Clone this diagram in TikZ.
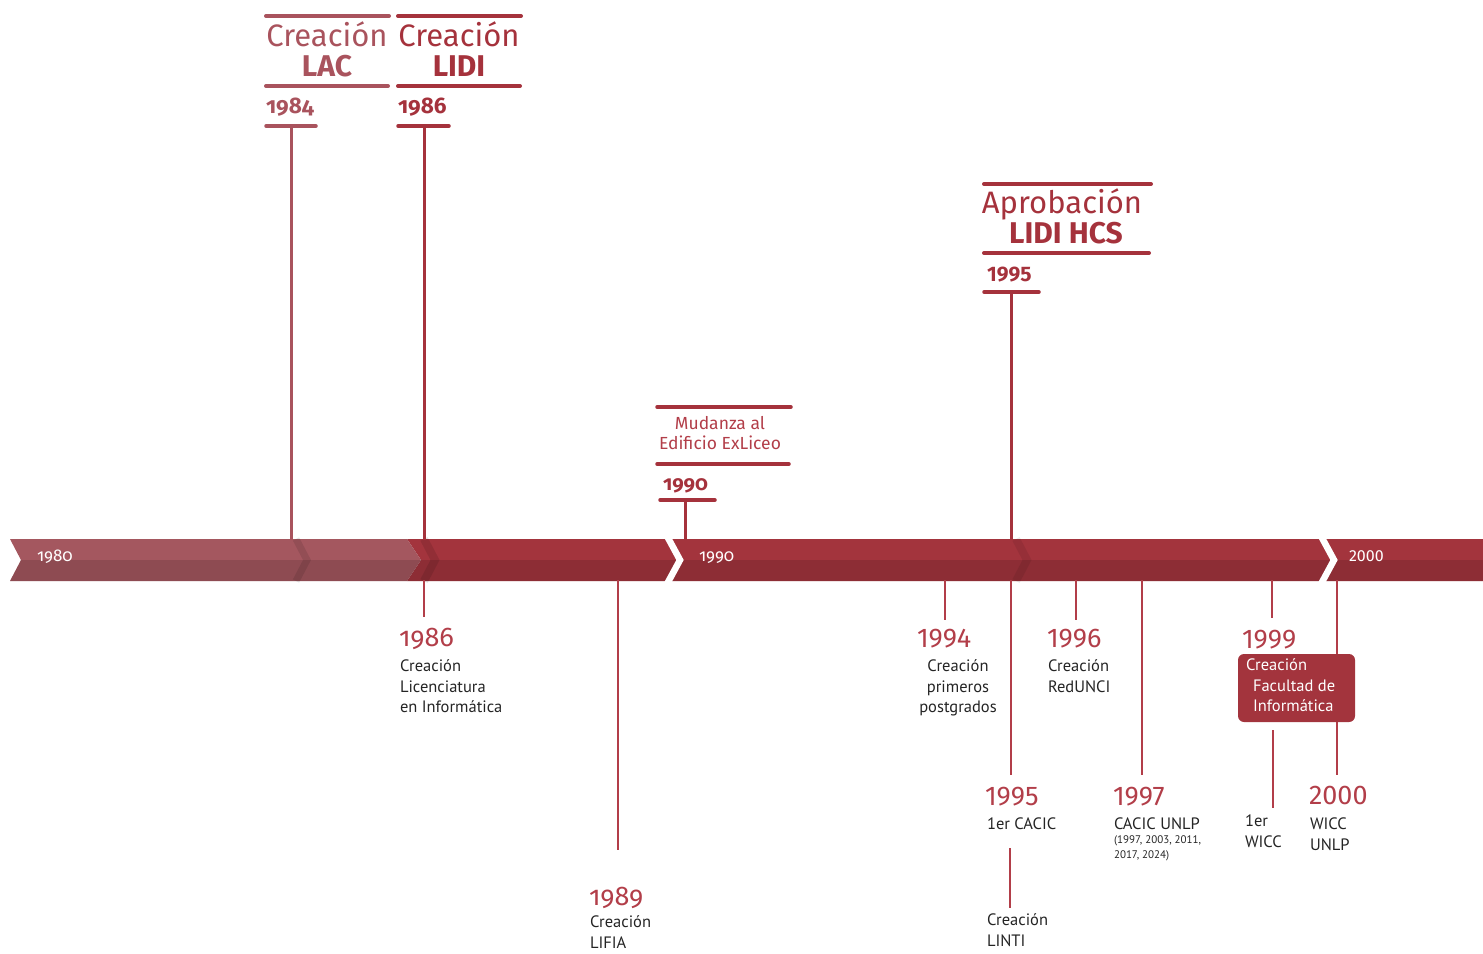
\documentclass[tikz,border=0pt]{standalone}
\usepackage{fontspec}
\setmainfont{PT Sans}
\newfontfamily\ttlfont{Fira Sans}[Numbers=OldStyle]
\newfontfamily\ttllin{Fira Sans}
\begin{document}
\begin{tikzpicture}[x=1pt,y=-1pt,
  every node/.style={inner sep=0pt,outer sep=0pt},
  barA/.style={draw=redA,line width=4pt,line cap=round},
  barB/.style={draw=redB,line width=4pt,line cap=round},
  stemA/.style={draw=redA,line width=3pt},
  stemB/.style={draw=redB,line width=3pt},
  stemC/.style={draw=redC,line width=2.4pt},
  ttlA/.style={font=\ttlfont\fontsize{31}{32}\selectfont,text=redA,anchor=base},
  ttlAb/.style={font=\ttlfont\bfseries\fontsize{30}{31}\selectfont,text=redA,anchor=base},
  ttlB/.style={font=\ttlfont\fontsize{31}{32}\selectfont,text=redB,anchor=base},
  ttlBb/.style={font=\ttlfont\bfseries\fontsize{30}{31}\selectfont,text=redB,anchor=base},
  yrtop/.style={font=\ttlfont\bfseries\fontsize{22.5}{23}\selectfont,anchor=base west},
  yrbot/.style={font=\ttlfont\fontsize{27}{28}\selectfont,text=redC,anchor=base west},
  yrbotl/.style={font=\ttllin\fontsize{27}{28}\selectfont,text=redC,anchor=base west},
  desc/.style={font=\fontsize{16.5}{20.5}\selectfont,text=txt,align=left,anchor=north west},
  axlbl/.style={font=\ttlfont\fontsize{17}{18}\selectfont,text=white,anchor=base west},
]
\definecolor{redA}{HTML}{A9535D}
\definecolor{redB}{HTML}{A5323C}
\definecolor{redC}{HTML}{B23E49}
\definecolor{segL}{HTML}{A4575F}
\definecolor{segD}{HTML}{A3343D}
\definecolor{txt}{HTML}{242424}
\useasboundingbox (0,0) rectangle (1483,953);

% ---------------- axis ----------------
\fill[segD] (407,539) -- (1483,539) -- (1483,581) -- (407,581) -- (421,560) -- cycle;
\fill[segL] (10,539) -- (407,539) -- (421,560) -- (407,581) -- (10,581) -- (21,560) -- cycle;
\fill[black,opacity=0.13] (21,560) -- (1483,560) -- (1483,581) -- (10,581) -- cycle;
\draw[black,opacity=0.10,line width=7pt] (296,539) -- (307,560) -- (296,581);
\draw[black,opacity=0.10,line width=8pt] (424,539) -- (435,560) -- (424,581);
\draw[black,opacity=0.08,line width=8pt] (1016,539) -- (1027,560) -- (1016,581);
\draw[white,line width=6.5pt] (667,536) -- (680,560) -- (667,584);
\draw[white,line width=6.5pt] (1321,536) -- (1334,560) -- (1321,584);
\node[axlbl] (a1980) at (37,561) {1980};
\node[axlbl] (a1990) at (699,561) {1990};
\node[axlbl,font=\ttllin\fontsize{16}{17}\selectfont] (a2000) at (1349,561) {2000};

\coordinate (ax84) at (291,540);
\coordinate (ax86) at (424,540);
\coordinate (ax90) at (685,540);
\coordinate (ax95) at (1011,540);
\coordinate (bx86) at (424,580);
\coordinate (bx89) at (618,580);
\coordinate (bx94) at (945,580);
\coordinate (bx95) at (1011,580);
\coordinate (bx96) at (1076,580);
\coordinate (bx97) at (1142,580);
\coordinate (bx99) at (1272,580);
\coordinate (bx00) at (1337,580);

% ---------------- top: LAC 1984 ----------------
\draw[barA] (266,16) -- (389,16);
\node[ttlA] (lac1) at (327,46) {Creación};
\node[ttlAb] (lac2) at (327,76) {LAC};
\draw[barA] (266,86) -- (388,86);
\node[yrtop,text=redA] (y84) at (266,113) {1984};
\coordinate (t84) at (291,126);
\draw[barA,line width=3.5pt] (266,126) -- (316,126);
\draw[stemA] (t84) -- (ax84);

% ---------------- top: LIDI 1986 ----------------
\draw[barB] (398,16) -- (521,16);
\node[ttlB] (lidi1) at (459,46) {Creación};
\node[ttlBb] (lidi2) at (459,76) {LIDI};
\draw[barB] (398,86) -- (520,86);
\node[yrtop,text=redB] (y86t) at (398,113) {1986};
\coordinate (t86) at (424,126);
\draw[barB,line width=3.5pt] (398,126) -- (449,126);
\draw[stemB] (t86) -- (ax86);

% ---------------- top: Mudanza 1990 ----------------
\draw[barB,line width=3.5pt] (657,407) -- (791,407);
\node[font=\ttllin\fontsize{17.5}{20}\selectfont,text=redC,align=center,anchor=north] (mud) at (720,416) {Mudanza al\\Edificio ExLiceo};
\draw[barB,line width=3.5pt] (657,464) -- (789,464);
\node[yrtop,text=redB,font=\ttlfont\bfseries\fontsize{20.5}{21}\selectfont] (y90t) at (663,490) {1990};
\coordinate (t90) at (685,500);
\draw[barB,line width=3.5pt] (660,500) -- (715,500);
\draw[stemB] (t90) -- (ax90);

% ---------------- top: Aprobacion 1995 ----------------
\draw[barB] (984,184) -- (1151,184);
\node[ttlB,anchor=base] (apr1) at (1062,213) {Aprobación};
\node[ttlBb] (apr2) at (1066,243) {LIDI HCS};
\draw[barB] (984,253) -- (1149,253);
\node[yrtop,text=redB,font=\ttllin\bfseries\fontsize{21}{22}\selectfont] (y95t) at (987,281) {1995};
\coordinate (t95) at (1011,292);
\draw[barB,line width=3.5pt] (984,292) -- (1039,292);
\draw[stemB] (t95) -- (ax95);

% ---------------- bottom events ----------------
% 1986
\coordinate (e86) at (424,617);
\draw[stemC] (bx86) -- (e86);
\node[yrbot] (b86) at (399,646) {1986};
\node[desc] (d86) at (400,660) {Creación\\Licenciatura\\en Informática};

% 1989
\coordinate (e89) at (618,850);
\draw[stemC] (bx89) -- (e89);
\node[yrbot] (b89) at (589,905) {1989};
\node[desc] (d89) at (590,916) {Creación\\LIFIA};

% 1994
\coordinate (e94) at (945,620);
\draw[stemC] (bx94) -- (e94);
\node[yrbotl] (b94) at (917,647) {1994};
\node[desc,align=center,anchor=north] (d94) at (958,660) {Creación\\primeros\\postgrados};

% 1995
\coordinate (e95) at (1011,775);
\draw[stemC] (bx95) -- (e95);
\node[yrbotl] (b95) at (985,805) {1995};
\node[desc] (d95) at (987,818) {1er CACIC};
\coordinate (l95a) at (1010,848);
\coordinate (l95b) at (1010,908);
\draw[stemC] (l95a) -- (l95b);
\node[desc] (d95b) at (987,914) {Creación\\LINTI};

% 1996
\coordinate (e96) at (1076,620);
\draw[stemC] (bx96) -- (e96);
\node[yrbotl] (b96) at (1047,647) {1996};
\node[desc] (d96) at (1048,660) {Creación\\RedUNCI};

% 1997
\coordinate (e97) at (1142,775);
\draw[stemC] (bx97) -- (e97);
\node[yrbotl] (b97) at (1113,805) {1997};
\node[desc] (d97) at (1114,818) {CACIC UNLP};
\node[font=\fontsize{11}{15}\selectfont,text=txt,align=left,anchor=north west] (d97b) at (1114,836) {(1997, 2003, 2011,\\2017, 2024)};

% 2000 (stem behind box)
\coordinate (e00) at (1337,775);
\draw[stemC] (bx00) -- (e00);
\node[yrbotl] (b00) at (1309,804) {2000};
\node[desc] (d00) at (1310,818) {WICC\\UNLP};

% 1999
\coordinate (e99) at (1272,618);
\draw[stemC] (bx99) -- (e99);
\node[yrbotl] (b99) at (1242,648) {1999};
\node[fill=segD,rounded corners=6pt,minimum width=117pt,minimum height=68pt,anchor=north west] (box99) at (1238,654) {};
\node[font=\fontsize{16.5}{20.5}\selectfont,text=white,align=left,anchor=north west] (t99) at (1246,659) {Creación\\\hspace*{7pt}Facultad de\\\hspace*{7pt}Informática};
\coordinate (w99a) at (1273,730);
\coordinate (w99b) at (1273,808);
\draw[stemC] (w99a) -- (w99b);
\node[desc] (d99) at (1245,815) {1er\\WICC};
\end{tikzpicture}
\end{document}
